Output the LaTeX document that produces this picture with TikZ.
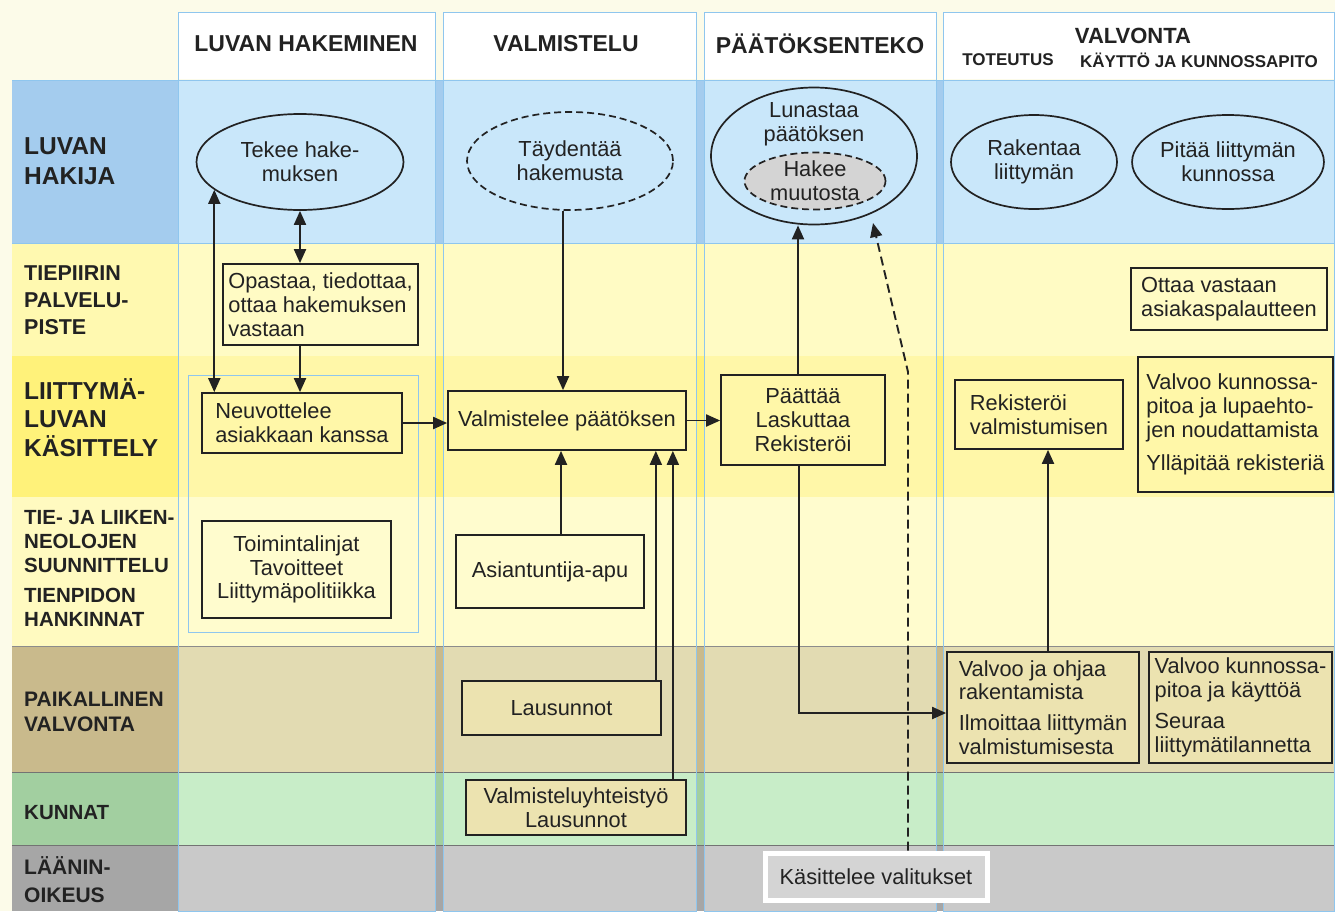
\documentclass[tikz,border=0pt]{standalone}
\usepackage{fontspec}
\setmainfont{Liberation Sans}
\usetikzlibrary{arrows.meta,shapes.geometric,calc}
\definecolor{bgc}{HTML}{FCFBE9}
\definecolor{rAl}{HTML}{A4CCEE}\definecolor{rAc}{HTML}{C9E7FA}
\definecolor{rBl}{HTML}{FFF9B0}\definecolor{rBc}{HTML}{FFFBC4}
\definecolor{rCl}{HTML}{FFF27A}\definecolor{rCc}{HTML}{FFF7A8}
\definecolor{rDl}{HTML}{FFFAC0}\definecolor{rDc}{HTML}{FFFCCE}
\definecolor{rEl}{HTML}{C9BA8C}\definecolor{rEc}{HTML}{E2DBB2}
\definecolor{rFl}{HTML}{A2CFA0}\definecolor{rFc}{HTML}{C8EDC8}
\definecolor{rGl}{HTML}{A6A6A6}\definecolor{rGc}{HTML}{C9C9C9}
\definecolor{colblue}{HTML}{8FC6EE}
\definecolor{txt}{HTML}{222222}
\definecolor{khaki}{HTML}{ECE3B0}
\definecolor{grayfill}{HTML}{D4D4D4}
\newcommand\myNodeFont{\fontsize{21.8}{23.8}\selectfont}
\begin{document}
\begin{tikzpicture}[x=1pt,y=-1pt,
  colline/.style={draw=colblue,line width=0.8pt},
  hdr/.style={inner sep=0pt,text=txt,font=\fontsize{23}{26}\selectfont\bfseries},
  subhdr/.style={inner sep=0pt,text=txt,font=\fontsize{17}{20}\selectfont\bfseries},
  lbl/.style={anchor=west,align=left,inner sep=0pt,text=txt},
  box/.style={draw=txt,line width=1.7pt,inner sep=0pt,align=center,font=\myNodeFont,text=txt},
  ell/.style={ellipse,draw=txt,line width=1.7pt,inner sep=0pt,align=center,font=\myNodeFont,text=txt,fill=rAc},
  arr/.style={draw=txt,line width=1.9pt,-{Triangle[length=14pt,width=12pt]}},
  arrb/.style={draw=txt,line width=1.9pt,{Triangle[length=14pt,width=12pt]}-{Triangle[length=14pt,width=12pt]}},
  darr/.style={draw=txt,line width=1.9pt,dash pattern=on 9pt off 5pt,-{Triangle[length=14pt,width=12pt]}}]
\useasboundingbox (0,0) rectangle (1335,911);
\fill[bgc] (0,0) rectangle (1335,911);
% rows
\foreach \ya/\yb/\lc/\cc in {80/243/rAl/rAc,243/356/rBl/rBc,356/497/rCl/rCc,497/646/rDl/rDc,646/772/rEl/rEc,772/845/rFl/rFc,845/911/rGl/rGc}{
  \fill[\lc] (12,\ya) rectangle (1335,\yb);
  \foreach \xa/\xb in {178/435,443/696,704/936,943/1335}{\fill[\cc] (\xa,\ya) rectangle (\xb,\yb);}
}
\draw[colline] (12,80) -- (1335,80);
\draw[colline] (12,243) -- (1335,243);
\draw[draw=black!45,line width=0.8pt] (12,646) -- (1335,646);
\draw[draw=black!55,line width=1pt] (12,772) -- (1335,772);
\draw[draw=black!55,line width=1pt] (12,845) -- (1335,845);
% columns
\foreach \xa/\xb in {178/435,443/696,704/936,943/1334}{
  \fill[white] (\xa,12) rectangle (\xb,79);
  \draw[colline] (\xa,12) rectangle (\xb,911);
}
\draw[colline] (188,375) rectangle (418,632);
% headers
\node[hdr] (h1) at (306,44) {LUVAN HAKEMINEN};
\node[hdr] (h2) at (566,44) {VALMISTELU};
\node[hdr] (h3) at (820,44) {PÄÄTÖKSENTEKO};
\node[hdr,font=\fontsize{22}{25}\selectfont\bfseries] (h4) at (1133,36) {VALVONTA};
\node[subhdr] (h4a) at (1008,60) {TOTEUTUS};
\node[subhdr] (h4b) at (1199,60) {KÄYTTÖ JA KUNNOSSAPITO};
% row labels
\node[lbl,font=\fontsize{24.5}{29.5}\selectfont\bfseries] (l1) at (24,161) {LUVAN\\HAKIJA};
\node[lbl,font=\fontsize{21.5}{27}\selectfont\bfseries] (l2) at (24,300.5) {TIEPIIRIN\\PALVELU-\\PISTE};
\node[lbl,font=\fontsize{24.5}{28.5}\selectfont\bfseries] (l3) at (24,417.5) {LIITTYMÄ-\\LUVAN\\KÄSITTELY};
\node[lbl,font=\fontsize{20.5}{24}\selectfont\bfseries] (l4) at (24,568) {TIE- JA LIIKEN-\\NEOLOJEN\\SUUNNITTELU\\[6pt]TIENPIDON\\HANKINNAT};
\node[lbl,font=\fontsize{21}{25}\selectfont\bfseries] (l5) at (24,712) {PAIKALLINEN\\VALVONTA};
\node[lbl,font=\fontsize{20.5}{25}\selectfont\bfseries] (l6) at (24,812.5) {KUNNAT};
\node[lbl,font=\fontsize{21}{28}\selectfont\bfseries] (l7) at (24,879.5) {LÄÄNIN-\\OIKEUS};
% ellipses
\node[ell,minimum width=207pt,minimum height=96pt] (tekee) at (300,162) {Tekee hake-\\muksen};
\node[ell,dashed,dash pattern=on 7pt off 4pt,minimum width=206pt,minimum height=98pt] (taydentaa) at (570,161) {Täydentää\\hakemusta};
\node[ell,minimum width=206pt,minimum height=137pt] (lunastaa) at (814,156) {};
\node[inner sep=0pt,align=center,font=\myNodeFont,text=txt] (lunt) at (814,124) {Lunastaa\\päätöksen};
\node[ell,fill=grayfill,dash pattern=on 7pt off 4pt,minimum width=141pt,minimum height=57pt] (hakee) at (815,181) {Hakee\\muutosta};
\node[ell,minimum width=166pt,minimum height=94pt] (rakentaa) at (1034,162) {Rakentaa\\liittymän};
\node[ell,minimum width=175pt,minimum height=94pt] (pitaa) at (1228,162) {Pitää liittymän\\kunnossa};
% boxes
\node[box,align=left,minimum width=195pt,minimum height=81pt] (opastaa) at (320.5,304.5) {Opastaa, tiedottaa,\\ottaa hakemuksen\\vastaan};
\node[box,align=left,minimum width=200pt,minimum height=60pt] (neuvo) at (302,423) {Neuvottelee\\asiakkaan kanssa};
\node[box,minimum width=189pt,minimum height=97pt] (toim) at (296.5,569.5) {Toimintalinjat\\Tavoitteet\\Liittymäpolitiikka};
\node[box,minimum width=238pt,minimum height=59pt] (valm) at (567,420.5) {Valmistelee päätöksen};
\node[box,minimum width=188pt,minimum height=73pt] (asiant) at (550,571.5) {Asiantuntija-apu};
\node[box,fill=khaki,minimum width=199pt,minimum height=54pt] (laus) at (561.5,708) {Lausunnot};
\node[box,fill=khaki,minimum width=220pt,minimum height=55pt] (valmyht) at (576,807.5) {Valmisteluyhteistyö\\Lausunnot};
\node[box,minimum width=164pt,minimum height=90pt] (paattaa) at (803,420) {Päättää\\Laskuttaa\\Rekisteröi};
\node[box,align=left,minimum width=168pt,minimum height=69pt] (rekis) at (1039,414.5) {Rekisteröi\\valmistumisen};
\node[box,align=left,minimum width=196pt,minimum height=62pt] (ottaa) at (1229,299) {Ottaa vastaan\\asiakaspalautteen};
\node[box,align=left,minimum width=195pt,minimum height=135pt] (valvkp) at (1235.5,424.5) {Valvoo kunnossa-\\pitoa ja lupaehto-\\jen noudattamista\\[10pt]Ylläpitää rekisteriä};
\node[box,align=left,fill=khaki,minimum width=192pt,minimum height=111pt] (valvjo) at (1043,707.5) {Valvoo ja ohjaa\\rakentamista\\[7pt]Ilmoittaa liittymän\\valmistumisesta};
\node[box,align=left,fill=khaki,minimum width=183pt,minimum height=111pt] (valvkk) at (1240.5,707.5) {Valvoo kunnossa-\\pitoa ja käyttöä\\[7pt]Seuraa\\liittymätilannetta};
\node[box,draw=white,line width=5pt,fill=grayfill,minimum width=222pt,minimum height=47pt] (kasit) at (876,876.5) {Käsittelee valitukset};
% connectors
\draw[arrb] (tekee.-162) -- (tekee.-162 |- neuvo.north);
\draw[arrb] (tekee.south) -- (tekee.south |- opastaa.north);
\draw[arr] (opastaa.south -| tekee.south) -- (tekee.south |- neuvo.north);
\draw[arr] (neuvo.east) -- (neuvo.east -| valm.west);
\draw[arr] ([xshift=-7pt]taydentaa.south) -- ([xshift=-7pt]taydentaa.south |- valm.north);
\draw[arr] (valm.east) -- (valm.east -| paattaa.west);
\draw[arr] ([xshift=11pt]asiant.north) -- ([xshift=11pt]asiant.north |- valm.south);
\draw[arr] ([xshift=-6pt]laus.north east) -- ([xshift=-6pt]laus.north east |- valm.south);
\draw[arr] ([xshift=-14pt]valmyht.north east) -- ([xshift=-14pt]valmyht.north east |- valm.south);
\draw[arr] ([xshift=-5pt]paattaa.north) -- ([xshift=-5pt]paattaa.north |- lunastaa.south);
\draw[arr] ([xshift=-4pt]paattaa.south) |- ([yshift=-5.5pt]valvjo.west);
\draw[arr] ([xshift=5pt]valvjo.north) -- ([xshift=5pt]valvjo.north |- rekis.south);
\coordinate (dbend) at (908,372);
\coordinate (dtip) at (873,223);
\draw[darr] ([xshift=32pt]kasit.north) -- (dbend) -- (dtip);
\end{tikzpicture}
\end{document}
